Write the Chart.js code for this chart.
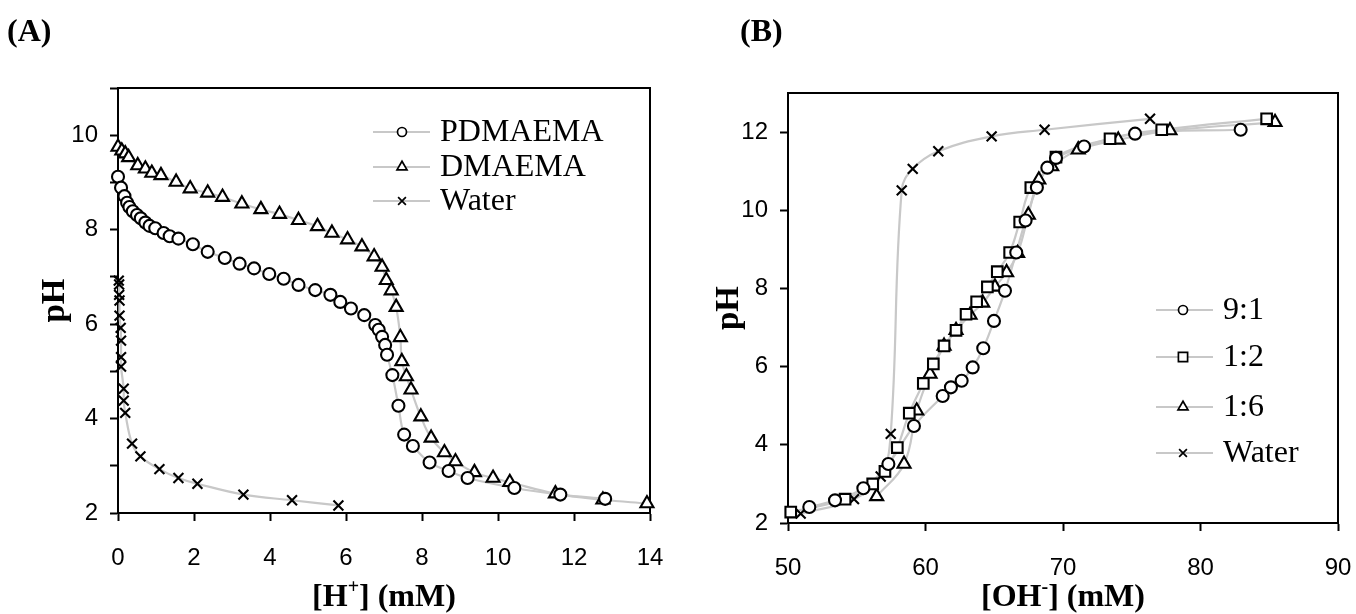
<!DOCTYPE html>
<html>
<head>
<meta charset="utf-8">
<script src="https://cdn.jsdelivr.net/npm/chart.js@4.4.1/dist/chart.umd.min.js"></script>
<style>
html,body{margin:0;padding:0;background:#fff;overflow:hidden}
#wrap{display:flex;width:1356px;height:614px}
canvas{display:block}
</style>
</head>
<body>
<div id="wrap"><canvas id="a" width="678" height="614"></canvas><canvas id="b" width="678" height="614"></canvas></div>
<script>
// ---------- Panel A data ----------
const xTicksA = [0, 2, 4, 6, 8, 10, 12, 14];
const yTickMarksA = [2, 3, 4, 5, 6, 7, 8, 9, 10, 11];
const yLabelsA = [2, 4, 6, 8, 10];
const legendA = ['PDMAEMA', 'DMAEMA', 'Water'];

const pdmaema = [[0,9.12],[0.08,8.89],[0.17,8.71],[0.24,8.57],[0.3,8.48],[0.39,8.39],[0.5,8.31],[0.6,8.24],[0.72,8.15],[0.83,8.08],[0.98,8.03],[1.2,7.93],[1.36,7.86],[1.59,7.81],[1.97,7.69],[2.36,7.53],[2.81,7.40],[3.2,7.28],[3.58,7.18],[3.98,7.06],[4.36,6.96],[4.75,6.83],[5.19,6.72],[5.59,6.62],[5.85,6.47],[6.13,6.33],[6.48,6.19],[6.77,5.98],[6.86,5.88],[6.95,5.73],[7.03,5.56],[7.08,5.35],[7.22,4.92],[7.38,4.27],[7.53,3.66],[7.76,3.42],[8.2,3.07],[8.7,2.89],[9.2,2.74],[10.43,2.53],[11.64,2.39],[12.82,2.30]];
const dmaema = [[0,9.75],[0.1,9.67],[0.19,9.61],[0.28,9.53],[0.52,9.36],[0.72,9.29],[0.89,9.2],[1.13,9.15],[1.53,9.01],[1.9,8.87],[2.36,8.78],[2.75,8.69],[3.26,8.55],[3.76,8.43],[4.25,8.33],[4.75,8.2],[5.25,8.07],[5.63,7.93],[6.04,7.79],[6.42,7.64],[6.74,7.43],[6.95,7.21],[7.06,6.93],[7.19,6.71],[7.32,6.36],[7.43,5.72],[7.47,5.21],[7.59,4.89],[7.71,4.61],[7.97,4.04],[8.24,3.59],[8.59,3.28],[8.88,3.09],[9.38,2.86],[9.87,2.74],[10.31,2.65],[11.51,2.41],[12.76,2.28],[13.92,2.2]];
const waterA = [[0.02,6.92],[0.03,6.84],[0.03,6.62],[0.04,6.5],[0.04,6.18],[0.07,5.92],[0.08,5.65],[0.08,5.3],[0.08,5.1],[0.15,4.63],[0.15,4.38],[0.19,4.12],[0.37,3.47],[0.59,3.2],[1.09,2.93],[1.59,2.74],[2.09,2.62],[3.3,2.39],[4.58,2.27],[5.8,2.16]];

// ---------- Panel B data ----------
const xTicksB = [50, 60, 70, 80, 90];
const yTicksB = [2, 4, 6, 8, 10, 12];
const legendB = ['9:1', '1:2', '1:6', 'Water'];

const r91 = [[51.55,2.41],[53.42,2.58],[55.48,2.89],[57.3,3.51],[59.16,4.48],[61.25,5.25],[61.85,5.47],[62.63,5.64],[63.43,5.98],[64.2,6.47],[64.98,7.17],[65.78,7.94],[66.6,8.92],[67.28,9.74],[68.1,10.58],[68.86,11.09],[69.49,11.34],[71.53,11.63],[75.24,11.96],[82.92,12.06]];
const r12 = [[50.2,2.28],[54.15,2.61],[56.16,3.0],[57.05,3.32],[57.95,3.93],[58.82,4.81],[59.84,5.57],[60.57,6.07],[61.35,6.53],[62.22,6.93],[62.95,7.34],[63.72,7.66],[64.5,8.04],[65.22,8.43],[66.12,8.92],[66.85,9.7],[67.66,10.58],[69.49,11.36],[73.42,11.83],[77.18,12.06],[84.81,12.34]];
const r16 = [[56.45,2.68],[58.44,3.51],[59.36,4.87],[60.33,5.81],[61.35,6.53],[62.22,6.93],[63.24,7.32],[64.16,7.63],[65.05,8.04],[65.9,8.41],[66.7,8.9],[67.48,9.88],[68.24,10.78],[69.18,11.12],[71.11,11.55],[74.02,11.8],[77.78,12.04],[85.42,12.25]];
const waterB = [[50.92,2.24],[54.8,2.61],[56.74,3.19],[57.47,4.28],[58.27,10.51],[59.07,11.06],[60.93,11.51],[64.81,11.89],[68.66,12.06],[76.33,12.34]];

// ---------- helpers ----------
const LINE = '#c8c8c8';
const SANS = '"Liberation Sans", Arial, sans-serif';
const SERIF = '"Liberation Serif", "Times New Roman", serif';
function pts(arr){ return arr.map(p => ({x: p[0], y: p[1]})); }
function series(label, arr, style, r){
  return [
    {label, data: pts(arr), borderColor: LINE, borderWidth: 2.2, pointRadius: 0, tension: 0.4, fill: false, clip: false, order: 2},
    {label, data: pts(arr), showLine: false, pointStyle: style, pointRadius: r, pointBorderColor: '#000', pointBackgroundColor: '#fff', pointBorderWidth: 2.1, clip: false, order: 1}
  ];
}
function drawTitle(ctx, parts, cx, baseY, size){
  let total = 0;
  const m = parts.map(p => {
    ctx.font = (p.sup ? 'bold ' + Math.round(size*0.62) + 'px ' : 'bold ' + size + 'px ') + SERIF;
    const w = ctx.measureText(p.t).width; total += w; return w;
  });
  let x = cx - total/2;
  ctx.fillStyle = '#000'; ctx.textBaseline = 'alphabetic'; ctx.textAlign = 'left';
  parts.forEach((p, i) => {
    ctx.font = (p.sup ? 'bold ' + Math.round(size*0.62) + 'px ' : 'bold ' + size + 'px ') + SERIF;
    ctx.fillText(p.t, x, p.sup ? baseY - size*0.42 : baseY);
    x += m[i];
  });
}
const paper = {
  id: 'paper',
  beforeDatasetsDraw(chart, args, o){
    const {ctx, chartArea: a} = chart;
    ctx.save(); ctx.strokeStyle = '#000'; ctx.lineWidth = 2;
    ctx.beginPath(); ctx.moveTo(a.left, a.top); ctx.lineTo(a.right, a.top); ctx.lineTo(a.right, a.bottom); ctx.stroke();
    ctx.restore();
  },
  afterDraw(chart, args, o){
    const {ctx, chartArea: a} = chart;
    ctx.save();
    ctx.fillStyle = '#000'; ctx.font = 'bold 32px ' + SERIF; ctx.textBaseline = 'middle'; ctx.textAlign = 'left';
    ctx.fillText(o.panel, o.panelX, 33);
    ctx.save(); ctx.translate(o.yTitleX, (a.top + a.bottom)/2); ctx.rotate(-Math.PI/2);
    ctx.font = 'bold 33px ' + SERIF; ctx.textAlign = 'center'; ctx.textBaseline = 'middle';
    ctx.fillText('pH', 0, 0); ctx.restore();
    drawTitle(ctx, o.xTitle, (a.left + a.right)/2, 606, 32);
    const L = o.legend;
    L.rows.forEach((row, i) => {
      const y = L.ys[i];
      ctx.strokeStyle = LINE; ctx.lineWidth = 2;
      ctx.beginPath(); ctx.moveTo(L.x0, y); ctx.lineTo(L.x1, y); ctx.stroke();
      ctx.fillStyle = '#fff'; ctx.strokeStyle = '#000'; ctx.lineWidth = 1.7;
      Chart.helpers.drawPoint(ctx, {pointStyle: row.style, radius: row.r, rotation: 0, borderWidth: 1.7}, L.mx, y);
      ctx.fillStyle = '#000'; ctx.font = '32px ' + SERIF; ctx.textAlign = 'left'; ctx.textBaseline = 'middle';
      ctx.fillText(row.label, L.tx, y + 1);
    });
    ctx.restore();
  }
};
function axisCommon(){
  return {
    type: 'linear',
    grid: {display: true, drawOnChartArea: false, drawTicks: true, tickLength: 8, tickWidth: 2, tickColor: '#000', color: '#000'},
    border: {display: true, color: '#000', width: 2},
    ticks: {font: {family: SANS, size: 24}, color: '#000', maxRotation: 0, autoSkip: false}
  };
}
function noPad(s){ s.paddingLeft = 0; s.paddingRight = 0; s.paddingTop = 0; s.paddingBottom = 0; }
function makeChart(id, cfg){
  const xs = axisCommon(), ys = axisCommon();
  Object.assign(xs, {min: cfg.xMin, max: cfg.xMax,
    afterBuildTicks: s => { s.ticks = cfg.xTicks.map(v => ({value: v})); },
    afterFit: s => { s.height = cfg.xHeight; noPad(s); }});
  xs.ticks.padding = 23;
  Object.assign(ys, {min: cfg.yMin, max: cfg.yMax,
    afterBuildTicks: s => { s.ticks = cfg.yTicks.map(v => ({value: v})); },
    afterFit: s => { s.width = cfg.yWidth; noPad(s); }});
  ys.ticks.padding = 12;
  ys.ticks.callback = v => cfg.yLabels.includes(v) ? String(v) : '';
  return new Chart(document.getElementById(id), {
    type: 'line',
    data: {datasets: cfg.datasets},
    options: {
      responsive: false, animation: false, events: [], devicePixelRatio: 1,
      layout: {padding: cfg.padding},
      scales: {x: xs, y: ys},
      plugins: {legend: {display: false}, tooltip: {enabled: false}, paper: cfg.paper}
    },
    plugins: [paper]
  });
}

makeChart('a', {
  xMin: 0, xMax: 14, xTicks: xTicksA, yMin: 2, yMax: 11, yTicks: yTickMarksA, yLabels: yLabelsA,
  xHeight: 101, yWidth: 118, padding: {left: 0, top: 88, right: 28, bottom: 0},
  datasets: [...series(legendA[0], pdmaema, 'circle', 6), ...series(legendA[1], dmaema, 'triangle', 7.5), ...series(legendA[2], waterA, 'crossRot', 7)],
  paper: {
    panel: '(A)', panelX: 7, yTitleX: 55,
    xTitle: [{t: '[H'}, {t: '+', sup: true}, {t: '] (mM)'}],
    legend: {x0: 373, x1: 430, mx: 402, tx: 440, ys: [132, 167, 201],
      rows: [{label: legendA[0], style: 'circle', r: 4.5}, {label: legendA[1], style: 'triangle', r: 5.8}, {label: legendA[2], style: 'crossRot', r: 5.5}]}
  }
});

makeChart('b', {
  xMin: 50, xMax: 90, xTicks: xTicksB, yMin: 2, yMax: 13, yTicks: yTicksB, yLabels: yTicksB,
  xHeight: 91, yWidth: 110, padding: {left: 0, top: 93, right: 18, bottom: 0},
  datasets: [...series(legendB[0], r91, 'circle', 6), ...series(legendB[1], r12, 'rect', 7.5), ...series(legendB[2], r16, 'triangle', 7.5), ...series(legendB[3], waterB, 'crossRot', 7)],
  paper: {
    panel: '(B)', panelX: 62, yTitleX: 51,
    xTitle: [{t: '[OH'}, {t: '-', sup: true}, {t: '] (mM)'}],
    legend: {x0: 478, x1: 535, mx: 505, tx: 545, ys: [310, 357, 407, 453],
      rows: [{label: legendB[0], style: 'circle', r: 4.5}, {label: legendB[1], style: 'rect', r: 6.5}, {label: legendB[2], style: 'triangle', r: 5.8}, {label: legendB[3], style: 'crossRot', r: 5.5}]}
  }
});
</script>
</body>
</html>
